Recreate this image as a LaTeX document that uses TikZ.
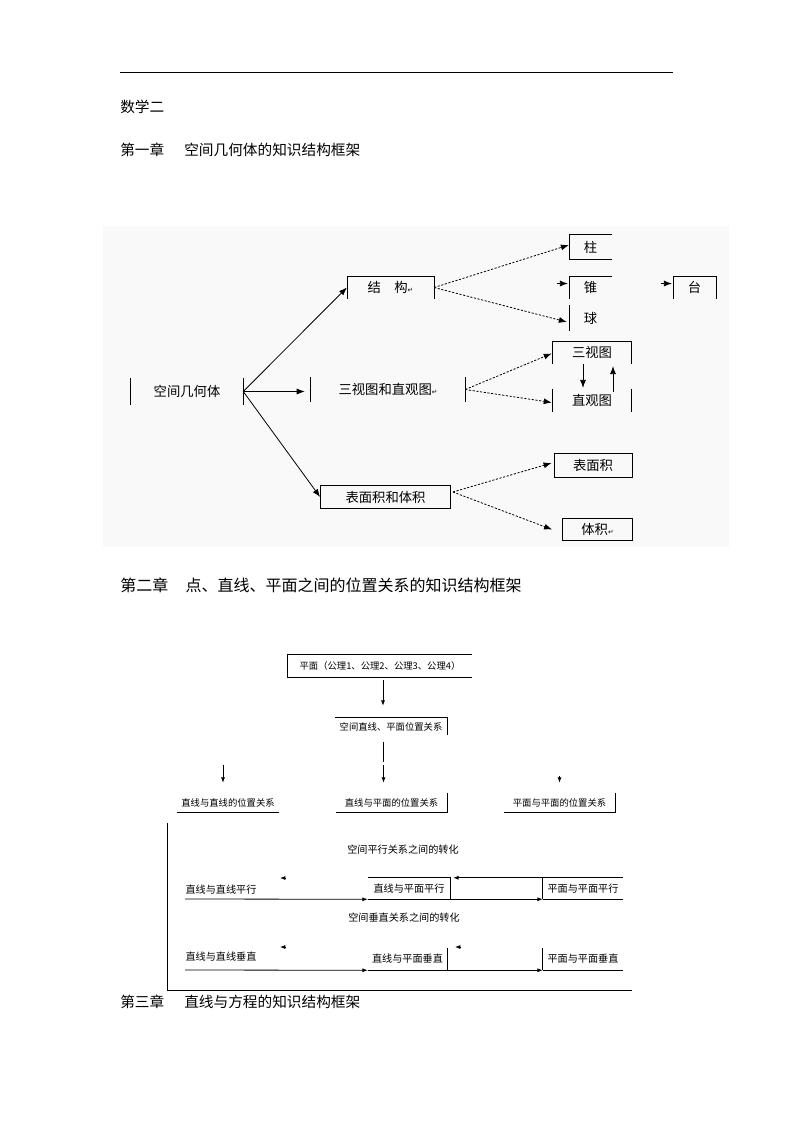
\documentclass[tikz,border=0pt]{standalone}
\usepackage{fontspec}
\setmainfont{Noto Sans CJK SC}
\newfontfamily\symfont{DejaVu Sans}
\usetikzlibrary{arrows.meta,calc}
\newcommand{\retmark}{{\symfont\fontsize{5pt}{5pt}\selectfont ↵}}
\begin{document}
\begin{tikzpicture}
  [x=0.75pt,y=-0.75pt,
   bigtext/.style={inner sep=0pt,font=\fontsize{10pt}{10pt}\selectfont},
   smalltext/.style={inner sep=0pt,font=\fontsize{7pt}{7pt}\selectfont},
   midtext/.style={inner sep=0pt,font=\fontsize{7.6pt}{7.6pt}\selectfont},
   headtext/.style={anchor=west,inner sep=0pt,font=\fontsize{11pt}{11pt}\selectfont},
   ln/.style={line width=0.6pt},
   dotline/.style={dash pattern=on 1.6pt off 1.2pt},
   smalltip/.style={-{Latex[length=4pt,width=3pt]}},
   >={Latex[length=6pt,width=4.5pt]}]
  \useasboundingbox (0,0) rectangle (793,1122);
  % page head
  \draw[line width=0.75pt] (120,72) -- (673,72);
  \node[headtext,name=t0] at (120,107) {数学二};
  \node[headtext,name=t1] at (120,150) {第一章\hspace{15pt}空间几何体的知识结构框架};
  \node[headtext,name=t2,font=\fontsize{12pt}{12pt}\selectfont] at (120,585) {第二章\hspace{13pt}点、直线、平面之间的位置关系的知识结构框架};
  \node[headtext,name=t3] at (120,1002) {第三章\hspace{15pt}直线与方程的知识结构框架};

  % chapter 1
  \fill[gray!5] (103,226) rectangle (729,547);
  \node[bigtext,name=kj,minimum width=84pt,minimum height=20pt] at (187,391.5) {空间几何体};
  \node[bigtext,name=jg,minimum width=65pt,minimum height=17pt] at (390.5,287.5) {结\hspace{10pt}构\retmark};
  \node[bigtext,name=zhu,minimum width=32pt,minimum height=18pt] at (590.5,247) {柱};
  \node[bigtext,name=zhui,minimum width=32pt,minimum height=17pt] at (590.5,287.5) {锥};
  \node[bigtext,name=tai,minimum width=32pt,minimum height=17pt] at (694.5,287.5) {台};
  \node[bigtext,name=qiu,minimum width=32pt,minimum height=19pt] at (590.5,318) {球};
  \node[bigtext,name=shz,minimum width=115.5pt,minimum height=19pt] at (388,389.5) {三视图和直观图\retmark};
  \node[bigtext,name=ssv,minimum width=58.5pt,minimum height=17pt] at (592,352.5) {三视图};
  \node[bigtext,name=zgt,minimum width=58.5pt,minimum height=17pt] at (592,400.5) {直观图};
  \node[bigtext,name=bmt,draw,ln,minimum width=97.5pt,minimum height=17pt] at (385.5,497) {表面积和体积};
  \node[bigtext,name=bmj,draw,ln,minimum width=58.5pt,minimum height=18pt] at (593,465) {表面积};
  \node[bigtext,name=tj,draw,ln,minimum width=52.5pt,minimum height=17pt] at (597.5,529.5) {体积\retmark};
  % open box edges
  \draw[ln] (kj.north west) -- (kj.south west) (kj.north east) -- (kj.south east);
  \draw[ln] (jg.south west) -- (jg.north west) -- (jg.north east) -- (jg.south east);
  \draw[ln] (zhu.north east) -- (zhu.north west) -- (zhu.south west) -- (zhu.south east);
  \draw[ln] (zhui.south west) -- (zhui.north west) -- (zhui.north east);
  \draw[ln] (tai.south west) -- (tai.north west) -- (tai.north east) -- (tai.south east);
  \draw[ln] (qiu.north west) -- (qiu.south west);
  \draw[ln] (shz.north west) -- (shz.south west) (shz.north east) -- (shz.south east);
  \draw[ln] (ssv.south west) -- (ssv.north west) -- (ssv.north east) -- (ssv.south east);
  \draw[ln] (zgt.north west) -- (zgt.south west) (zgt.north east) -- (zgt.south east);
  % arrows
  \draw[->,ln] (kj.east) -- (jg.west);
  \draw[->,ln] (kj.east) -- ($(shz.west)+(-6,2)$);
  \draw[->,ln] (kj.east) -- (bmt.west);
  \draw[->,ln,dotline] (jg.east) -- ($(zhu.west)+(0,-2)$);
  \draw[->,ln,dotline] (jg.east) -- ($(qiu.west)+(-2,4)$);
  \draw[->,ln] ($(zhui.west)+(-12,-4)$) -- ($(zhui.west)+(-1,-4)$);
  \draw[->,ln] ($(tai.west)+(-12,-4)$) -- ($(tai.west)+(-1,-4)$);
  \draw[->,ln,dotline] (shz.east) -- ($(ssv.west)+(-1,1)$);
  \draw[->,ln,dotline] (shz.east) -- ($(zgt.west)+(-1,2)$);
  \draw[->,ln] ($(ssv.south)+(-9,0)$) -- ($(zgt.north)+(-9,-1)$);
  \draw[->,ln] ($(zgt.north)+(21,3)$) -- ($(ssv.south)+(21,2)$);
  \draw[->,ln,dotline] ($(bmt.east)+(2,-5)$) -- ($(bmj.west)+(-2,-2)$);
  \draw[->,ln,dotline] ($(bmt.east)+(2,-5)$) -- ($(tj.west)+(-10,0)$);

  % chapter 2
  \node[smalltext,name=pm,minimum width=138pt,minimum height=16.5pt] at (380,666) {平面（公理1、公理2、公理3、公理4）};
  \node[smalltext,name=kjzx,minimum width=84pt,minimum height=12.75pt] at (391,726.5) {空间直线、平面位置关系};
  \node[smalltext,name=zx,minimum width=76.5pt,minimum height=14.25pt] at (228,802.5) {直线与直线的位置关系};
  \node[smalltext,name=zp,minimum width=83.25pt,minimum height=14.25pt] at (391.5,802.5) {直线与平面的位置关系};
  \node[smalltext,name=pp,minimum width=83.25pt,minimum height=14.25pt] at (559.5,802.5) {平面与平面的位置关系};
  \draw[ln] (pm.north east) -- (pm.north west) -- (pm.south west) -- (pm.south east);
  \draw[ln] (kjzx.north west) -- (kjzx.north east) -- (kjzx.south east);
  \draw[ln] (zx.south west) -- (zx.south east);
  \draw[ln] (zp.south west) -- (zp.south east) -- (zp.north east);
  \draw[ln] (pp.south west) -- (pp.south east) -- (pp.north east);
  \draw[smalltip,ln] ($(pm.south)+(3,3)$) -- ($(kjzx.north)+(-8,-12)$);
  \draw[ln] ($(kjzx.south)+(-8,7)$) -- ($(kjzx.south)+(-8,27)$);
  \draw[smalltip,ln] ($(zp.north)+(-8,-28)$) -- ($(zp.north)+(-8,-10)$);
  \draw[smalltip,ln] ($(zx.north)+(-5,-28)$) -- ($(zx.north)+(-5,-10)$);
  \draw[smalltip,ln] ($(pp.north)+(0,-17)$) -- ($(pp.north)+(0,-10)$);

  % frame of the conversions
  \coordinate (fa) at (167,823);
  \coordinate (fb) at (167,990);
  \coordinate (fc) at (632,990);
  \draw[ln] (fa) -- (fb) -- (fc);
  \node[midtext,name=px] at (403,850) {空间平行关系之间的转化};
  \node[midtext,name=cz] at (404,918) {空间垂直关系之间的转化};
  % parallel row
  \node[midtext,name=zzpx] at (221,890) {直线与直线平行};
  \node[midtext,name=zpx,minimum width=61.5pt,minimum height=15.75pt] at (409,888.5) {直线与平面平行};
  \node[midtext,name=ppx,minimum width=60pt,minimum height=15.75pt] at (583,888.5) {平面与平面平行};
  \draw[ln] (zpx.north west) -- (zpx.north east) -- (zpx.south east);
  \draw[ln] (ppx.north west) -- (ppx.south west);
  \coordinate (s1) at (185,899);
  \draw[smalltip,ln] (s1) -- (zpx.south west);
  \draw[smalltip,ln] (zpx.south west) -- (ppx.south west);
  \draw[ln] (ppx.south west) -- (ppx.south east);
  \draw[smalltip,ln] (ppx.north east) -- ($(zpx.north east)+(3,0)$);
  \coordinate (h1) at (280,878);
  \draw[smalltip,ln] ($(h1)+(6,0)$) -- (h1);
  % perpendicular row
  \node[midtext,name=zzcz] at (221,957) {直线与直线垂直};
  \node[midtext,name=zpc,minimum width=59.25pt,minimum height=16.5pt] at (407.5,959) {直线与平面垂直};
  \node[midtext,name=ppc,minimum width=60pt,minimum height=16.5pt] at (583,959) {平面与平面垂直};
  \draw[ln] (zpc.north east) -- (zpc.south east);
  \draw[ln] (ppc.north west) -- (ppc.south west);
  \coordinate (s2) at (185,970);
  \draw[smalltip,ln] (s2) -- (zpc.south west);
  \draw[smalltip,ln] (zpc.south west) -- (ppc.south west);
  \draw[ln] (ppc.south west) -- (ppc.south east);
  \coordinate (h2) at (280,947);
  \coordinate (h3) at (455,947);
  \draw[smalltip,ln] ($(h2)+(6,0)$) -- (h2);
  \draw[smalltip,ln] ($(h3)+(6,0)$) -- (h3);
\end{tikzpicture}
\end{document}
